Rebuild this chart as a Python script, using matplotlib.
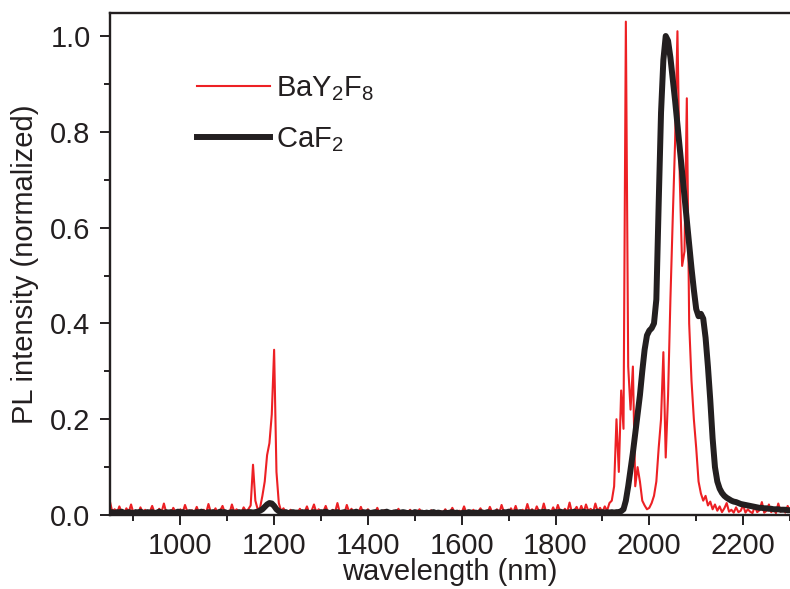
import numpy as np
import matplotlib
matplotlib.use('Agg')
import matplotlib.pyplot as plt
from matplotlib.ticker import MultipleLocator

# Datos (espectros normalizados, paso de 5 nm)
longitud_onda = np.arange(850, 2301, 5)

# BaY2F8 (linea roja fina)
bay2f8 = [
    0.028, 0.006, 0.012, 0.004, 0.018, 0.005, 0.003, 0.014, 0.006, 0.022, 0.004, 0.009, 0.003, 0.016, 0.005, 0.011, 0.004, 0.007, 0.019, 0.005,
    0.004, 0.013, 0.006, 0.024, 0.005, 0.008, 0.003, 0.015, 0.006, 0.004, 0.012, 0.005, 0.021, 0.007, 0.004, 0.010, 0.005, 0.017, 0.004, 0.006,
    0.011, 0.004, 0.023, 0.006, 0.005, 0.014, 0.003, 0.009, 0.019, 0.005, 0.007, 0.004, 0.022, 0.006, 0.012, 0.005, 0.004, 0.016, 0.008, 0.012,
    0.020, 0.105, 0.030, 0.012, 0.015, 0.040, 0.070, 0.125, 0.150, 0.210, 0.345, 0.090, 0.025, 0.008, 0.014, 0.005, 0.004, 0.011, 0.006, 0.003,
    0.005, 0.013, 0.004, 0.006, 0.018, 0.004, 0.009, 0.022, 0.005, 0.012, 0.004, 0.007, 0.019, 0.005, 0.004, 0.011, 0.006, 0.025, 0.005, 0.008,
    0.004, 0.021, 0.006, 0.013, 0.004, 0.009, 0.005, 0.017, 0.004, 0.006, 0.012, 0.004, 0.008, 0.005, 0.015, 0.004, 0.006, 0.010, 0.004, 0.007,
    0.005, 0.009, 0.004, 0.013, 0.005, 0.004, 0.008, 0.005, 0.011, 0.004, 0.006, 0.004, 0.012, 0.005, 0.004, 0.007, 0.005, 0.010, 0.004, 0.006,
    0.004, 0.008, 0.005, 0.012, 0.004, 0.006, 0.015, 0.005, 0.004, 0.009, 0.005, 0.018, 0.004, 0.007, 0.005, 0.011, 0.004, 0.006, 0.014, 0.005,
    0.009, 0.004, 0.017, 0.006, 0.005, 0.012, 0.004, 0.021, 0.006, 0.008, 0.004, 0.014, 0.005, 0.019, 0.004, 0.007, 0.011, 0.005, 0.023, 0.006,
    0.012, 0.004, 0.018, 0.007, 0.005, 0.024, 0.006, 0.010, 0.004, 0.016, 0.005, 0.021, 0.007, 0.004, 0.013, 0.006, 0.026, 0.005, 0.009, 0.017,
    0.006, 0.019, 0.005, 0.022, 0.008, 0.013, 0.005, 0.024, 0.007, 0.015, 0.006, 0.018, 0.009, 0.025, 0.030, 0.060, 0.200, 0.090, 0.260, 0.180,
    1.030, 0.310, 0.220, 0.310, 0.060, 0.100, 0.070, 0.030, 0.020, 0.012, 0.015, 0.025, 0.040, 0.070, 0.140, 0.200, 0.340, 0.120, 0.250, 0.450,
    0.620, 0.780, 1.010, 0.700, 0.520, 0.550, 0.870, 0.400, 0.280, 0.200, 0.140, 0.070, 0.045, 0.030, 0.040, 0.020, 0.028, 0.012, 0.022, 0.009,
    0.018, 0.006, 0.014, 0.025, 0.007, 0.011, 0.005, 0.016, 0.006, 0.009, 0.021, 0.005, 0.012, 0.007, 0.004, 0.018, 0.006, 0.010, 0.027, 0.005,
    0.009, 0.022, 0.006, 0.013, 0.004, 0.024, 0.007, 0.015, 0.005, 0.019, 0.008,
]

# CaF2 (linea negra gruesa)
caf2 = [
    0.005, 0.006, 0.004, 0.006, 0.005, 0.007, 0.004, 0.005, 0.006, 0.005, 0.004, 0.006, 0.005, 0.007, 0.005, 0.004, 0.006, 0.005, 0.006, 0.004,
    0.005, 0.007, 0.005, 0.004, 0.006, 0.005, 0.006, 0.004, 0.005, 0.007, 0.005, 0.006, 0.004, 0.005, 0.006, 0.005, 0.004, 0.006, 0.005, 0.007,
    0.005, 0.004, 0.006, 0.005, 0.006, 0.004, 0.005, 0.007, 0.005, 0.006, 0.004, 0.005, 0.006, 0.005, 0.004, 0.006, 0.005, 0.006, 0.005, 0.006,
    0.006, 0.005, 0.006, 0.007, 0.009, 0.012, 0.017, 0.022, 0.025, 0.024, 0.019, 0.012, 0.008, 0.006, 0.005, 0.006, 0.004, 0.005, 0.006, 0.005,
    0.005, 0.004, 0.006, 0.005, 0.006, 0.004, 0.005, 0.006, 0.005, 0.004, 0.006, 0.005, 0.007, 0.005, 0.004, 0.006, 0.005, 0.006, 0.004, 0.005,
    0.006, 0.005, 0.004, 0.006, 0.005, 0.007, 0.005, 0.004, 0.006, 0.005, 0.006, 0.004, 0.005, 0.006, 0.005, 0.004, 0.006, 0.005, 0.007, 0.005,
    0.004, 0.005, 0.006, 0.004, 0.005, 0.006, 0.005, 0.003, 0.005, 0.004, 0.006, 0.005, 0.004, 0.005, 0.003, 0.005, 0.004, 0.005, 0.006, 0.004,
    0.005, 0.004, 0.003, 0.005, 0.004, 0.005, 0.006, 0.004, 0.005, 0.003, 0.004, 0.005, 0.004, 0.006, 0.005, 0.004, 0.005, 0.004, 0.006, 0.005,
    0.004, 0.006, 0.005, 0.004, 0.005, 0.006, 0.005, 0.004, 0.006, 0.005, 0.007, 0.005, 0.004, 0.006, 0.005, 0.006, 0.004, 0.005, 0.006, 0.005,
    0.006, 0.005, 0.004, 0.006, 0.005, 0.007, 0.005, 0.006, 0.004, 0.005, 0.006, 0.005, 0.007, 0.005, 0.006, 0.004, 0.006, 0.005, 0.007, 0.005,
    0.006, 0.005, 0.007, 0.005, 0.006, 0.004, 0.006, 0.005, 0.007, 0.005, 0.006, 0.005, 0.006, 0.005, 0.006, 0.005, 0.006, 0.006, 0.008, 0.012,
    0.030, 0.060, 0.095, 0.130, 0.170, 0.210, 0.250, 0.300, 0.345, 0.375, 0.385, 0.390, 0.400, 0.450, 0.650, 0.840, 0.950, 1.000, 0.990, 0.955,
    0.910, 0.865, 0.815, 0.765, 0.715, 0.665, 0.615, 0.565, 0.515, 0.470, 0.430, 0.415, 0.420, 0.410, 0.370, 0.310, 0.240, 0.160, 0.100, 0.070,
    0.055, 0.046, 0.040, 0.036, 0.033, 0.030, 0.028, 0.027, 0.025, 0.023, 0.022, 0.021, 0.020, 0.019, 0.018, 0.017, 0.016, 0.015, 0.015, 0.014,
    0.014, 0.013, 0.013, 0.012, 0.012, 0.012, 0.011, 0.011, 0.011, 0.010, 0.010,
]

etiquetas = ['BaY$_2$F$_8$', 'CaF$_2$']
color_rojo = '#ED2024'
color_negro = '#231F20'

plt.rcParams['font.family'] = ['Liberation Sans', 'DejaVu Sans']
plt.rcParams['mathtext.fontset'] = 'custom'
plt.rcParams['mathtext.rm'] = 'Liberation Sans'
plt.rcParams['mathtext.default'] = 'regular'
plt.rcParams['text.color'] = color_negro
plt.rcParams['axes.labelcolor'] = color_negro

fig = plt.figure(figsize=(7.9, 5.89), dpi=100)
ax = fig.add_axes([0.1392, 0.1256, 0.8608, 0.8523])

ax.plot(longitud_onda, bay2f8, color=color_rojo, lw=1.5, label=etiquetas[0])
ax.plot(longitud_onda, caf2, color=color_negro, lw=4.3, label=etiquetas[1])

ax.set_xlim(850, 2300)
ax.set_ylim(0, 1.048)

ax.xaxis.set_major_locator(MultipleLocator(200))
ax.xaxis.set_minor_locator(MultipleLocator(100))
ax.yaxis.set_major_locator(MultipleLocator(0.2))
ax.yaxis.set_minor_locator(MultipleLocator(0.1))
ax.yaxis.set_major_formatter(matplotlib.ticker.FormatStrFormatter('%.1f'))

ax.spines['right'].set_visible(False)
for lado in ['left', 'bottom', 'top']:
    ax.spines[lado].set_linewidth(1.7)
    ax.spines[lado].set_color(color_negro)

ax.tick_params(which='major', direction='out', length=7, width=1.4, labelsize=21,
               pad=7, colors=color_negro, top=False, right=False)
ax.tick_params(which='minor', direction='out', length=4.3, width=1.4,
               colors=color_negro, top=False, right=False)
ax.tick_params(axis='x', which='major', pad=5.5)

ax.set_xlabel('wavelength (nm)', fontsize=21, labelpad=-2)
ax.set_ylabel('PL intensity (normalized)', fontsize=21, labelpad=8)

leyenda = ax.legend(loc='upper left', bbox_to_anchor=(0.09, 0.93), frameon=False,
                    fontsize=21, handlelength=2.5, handletextpad=0.2,
                    labelspacing=0.75)

plt.savefig('out.png', dpi=100)
